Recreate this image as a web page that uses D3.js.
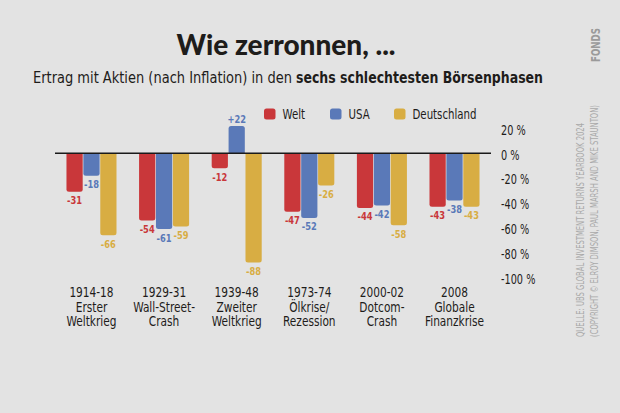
<!DOCTYPE html>
<html><head><meta charset="utf-8">
<script src="https://cdn.jsdelivr.net/npm/d3@7"></script>
<style>
html,body{margin:0;padding:0;background:#e3e3e3;}
svg{display:block;}
</style></head>
<body>
<svg id="c" width="620" height="413"></svg>
<script>
const years = ["1914-18","1929-31","1939-48","1973-74","2000-02","2008"];
const labelLine2 = ["Erster","Wall-Street-","Zweiter","Ölkrise/","Dotcom-","Globale"];
const labelLine3 = ["Weltkrieg","Crash","Weltkrieg","Rezession","Crash","Finanzkrise"];
const seriesNames = ["Welt","USA","Deutschland"];
const seriesColors = ["#c9373a","#5a79b8","#d8ad43"];
const welt = [-31,-54,-12,-47,-44,-43];
const usa = [-18,-61,22,-52,-42,-38];
const deutschland = [-66,-59,-88,-26,-58,-43];
const yTicks = [20,0,-20,-40,-60,-80,-100];

const seriesValues = [welt, usa, deutschland];
const cond = "'DejaVu Sans Condensed','Liberation Sans Narrow',sans-serif";
const svg = d3.select("#c");
svg.append("rect").attr("width",620).attr("height",413).attr("fill","#e3e3e3");

function squeeze(sel, f){
  sel.each(function(){
    const len = this.getComputedTextLength();
    this.setAttribute("textLength", (len*f).toFixed(2));
    this.setAttribute("lengthAdjust","spacingAndGlyphs");
  });
}

// Title
svg.append("text").attr("x",286).attr("y",55).attr("text-anchor","middle")
  .attr("font-family","Lato, Inter, sans-serif").attr("font-weight",900)
  .attr("font-size",28).attr("fill","#1e1c1a").text("Wie zerronnen, ...");
svg.append("text").attr("x",33).attr("y",83)
  .attr("font-family",cond).attr("font-size",16).attr("fill","#1e1c1a")
  .attr("textLength",259).attr("lengthAdjust","spacingAndGlyphs")
  .text("Ertrag mit Aktien (nach Inflation) in den");
svg.append("text").attr("x",296).attr("y",83)
  .attr("font-family",cond).attr("font-size",16).attr("font-weight","bold").attr("fill","#1e1c1a")
  .attr("textLength",247).attr("lengthAdjust","spacingAndGlyphs")
  .text("sechs schlechtesten Börsenphasen");

// Scales
const x = d3.scaleBand().domain(years).range([55,491]).paddingInner(0.311).paddingOuter(0.158);
const xs = d3.scaleBand().domain(seriesNames).range([0,x.bandwidth()]).paddingInner(0.04);
const y = d3.scaleLinear().domain([-100,20]).range([277.5,128.5]);

// Bars
const r = 2.5;
function barPath(x0,w,v){
  const y0 = y(0), y1 = y(v);
  if (v < 0) {
    return `M${x0},${y0}V${y1-r}Q${x0},${y1} ${x0+r},${y1}H${x0+w-r}Q${x0+w},${y1} ${x0+w},${y1-r}V${y0}Z`;
  } else {
    return `M${x0},${y0}V${y1+r}Q${x0},${y1} ${x0+r},${y1}H${x0+w-r}Q${x0+w},${y1} ${x0+w},${y1+r}V${y0}Z`;
  }
}
const groups = svg.append("g");
const valLabels = svg.append("g");
years.forEach((cat,i)=>{
  seriesNames.forEach((s,j)=>{
    const v = seriesValues[j][i];
    const bx = x(cat)+xs(s), bw = xs.bandwidth();
    groups.append("path").attr("d",barPath(bx,bw,v)).attr("fill",seriesColors[j]);
    valLabels.append("text").attr("x",bx+bw/2)
      .attr("y", v<0 ? y(v)+12.5 : y(v)-3.5)
      .attr("text-anchor","middle").attr("font-family",cond).attr("font-weight","bold")
      .attr("font-size",10.5).attr("fill",seriesColors[j])
      .text(v>0 ? "+"+v : String(v));
  });
});
squeeze(valLabels.selectAll("text"), 0.88);

// Zero line
svg.append("line").attr("x1",55).attr("x2",491).attr("y1",y(0)).attr("y2",y(0))
  .attr("stroke","#1a1a1a").attr("stroke-width",1.5);

// Y axis labels (right)
const yAxis = d3.axisRight(y).tickValues(yTicks).tickSize(0).tickPadding(0)
  .tickFormat(d=>d+" %");
const ya = svg.append("g").attr("transform","translate(501,1.5)").call(yAxis);
ya.select(".domain").remove();
ya.selectAll("text").attr("font-family",cond).attr("font-size",13.5).attr("fill","#1e1c1a");
squeeze(ya.selectAll("text"), 0.8);

// Category labels
const xa = svg.append("g");
years.forEach((cat,i)=>{
  const cx = x(cat)+x.bandwidth()/2;
  const t = xa.append("text").attr("text-anchor","middle").attr("font-family",cond)
    .attr("font-size",14).attr("fill","#1e1c1a");
  t.append("tspan").attr("x",cx).attr("y",297).text(cat);
  t.append("tspan").attr("x",cx).attr("y",311.5).text(labelLine2[i]);
  t.append("tspan").attr("x",cx).attr("y",326).text(labelLine3[i]);
});
squeeze(xa.selectAll("tspan"), 0.84);

// Legend
const legX = [264,330,394];
const leg = svg.append("g");
seriesNames.forEach((s,j)=>{
  leg.append("rect").attr("x",legX[j]).attr("y",108.5).attr("width",11.5).attr("height",11)
    .attr("rx",2.5).attr("fill",seriesColors[j]);
  leg.append("text").attr("x",legX[j]+18.5).attr("y",119).attr("font-family",cond)
    .attr("font-size",13.5).attr("fill","#1e1c1a").text(s);
});
squeeze(leg.selectAll("text"), 0.84);

// Source (vertical)
svg.append("text").attr("transform","translate(584,337) rotate(-90)")
  .attr("font-family",cond).attr("font-size",10.5).attr("fill","#a9a9a9")
  .attr("textLength",214).attr("lengthAdjust","spacingAndGlyphs")
  .text("QUELLE: UBS GLOBAL INVESTMENT RETURNS YEARBOOK 2024");
svg.append("text").attr("transform","translate(598,337) rotate(-90)")
  .attr("font-family",cond).attr("font-size",10.5).attr("fill","#a9a9a9")
  .attr("textLength",232).attr("lengthAdjust","spacingAndGlyphs")
  .text("(COPYRIGHT © ELROY DIMSON, PAUL MARSH AND MIKE STAUNTON)");

// Logo
svg.append("text").attr("transform","translate(600,62) rotate(-90)")
  .attr("font-family","'DejaVu Sans', sans-serif").attr("font-weight","bold")
  .attr("font-size",12).attr("fill","#9a9a9a")
  .attr("textLength",34).attr("lengthAdjust","spacingAndGlyphs").text("FONDS");
</script>
</body></html>
